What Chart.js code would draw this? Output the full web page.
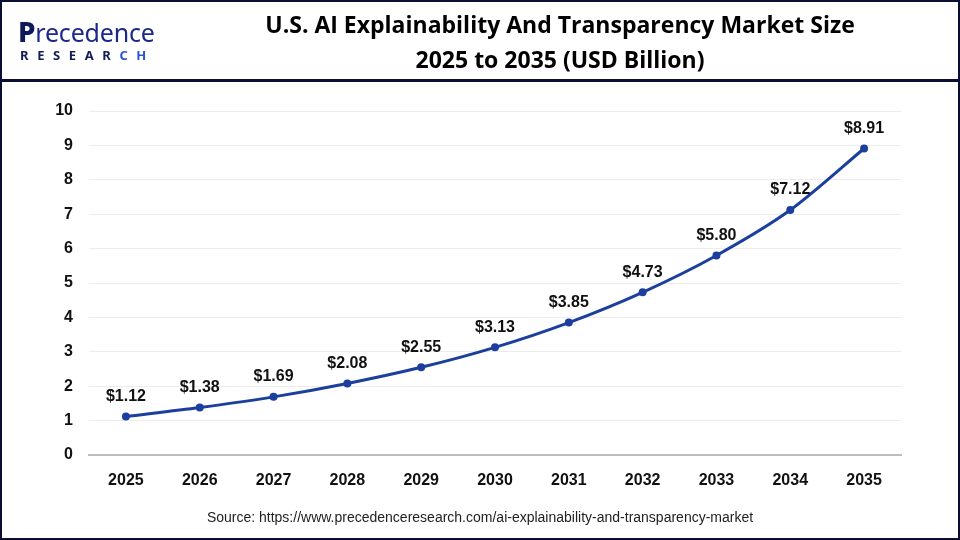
<!DOCTYPE html>
<html>
<head>
<meta charset="utf-8">
<script src="https://cdn.jsdelivr.net/npm/chart.js@4.4.1/dist/chart.umd.min.js"></script>
<style>
  html, body { margin: 0; padding: 0; background: #fff; }
  #wrap { position: relative; width: 960px; height: 540px; overflow: hidden; }
  #frame { position: absolute; left: 0; top: 0; width: 956px; height: 536px; border: 2px solid #0b0f35; pointer-events: none; }
  #sep { position: absolute; left: 0; top: 79px; width: 960px; height: 3px; background: #0b0f35; }
  #logo { position: absolute; left: 18px; top: 17px; font-family: "Noto Sans", sans-serif; }
  #logo .top { font-size: 25px; line-height: 29px; color: #1b2a8a; letter-spacing: -0.2px; }
  #logo .top b { color: #101a5a; font-weight: 800; font-size: 28px; }
  #logo .bot { font-size: 13px; font-weight: 700; letter-spacing: 8.6px; color: #141c55; margin-top: -1px; margin-left: 2px; }
  #logo .bot span { color: #2a55d0; }
  #title { position: absolute; left: 200px; width: 720px; top: 7px; text-align: center;
           font-family: "Open Sans", sans-serif; font-weight: 700; font-size: 23px; line-height: 35px; color: #000; }
  #source { position: absolute; left: 0; width: 960px; top: 509px; text-align: center;
            font-family: "Liberation Sans", Arial, sans-serif; font-size: 14px; color: #222; }
  canvas { position: absolute; left: 0; top: 0; }
</style>
</head>
<body>
<div id="wrap">
  <canvas id="chart" width="960" height="540"></canvas>
  <div id="logo">
    <div class="top"><b>P</b>recedence</div>
    <div class="bot">RESEAR<span>CH</span></div>
  </div>
  <div id="title">U.S. AI Explainability And Transparency Market Size<br>2025 to 2035 (USD Billion)</div>
  <div id="sep"></div>
  <div id="source">Source: https://www.precedenceresearch.com/ai-explainability-and-transparency-market</div>
  <div id="frame"></div>
</div>
<script>
// ===== DATA =====
const years = ['2025', '2026', '2027', '2028', '2029', '2030', '2031', '2032', '2033', '2034', '2035'];
const marketSize = [1.12, 1.38, 1.69, 2.08, 2.55, 3.13, 3.85, 4.73, 5.80, 7.12, 8.91];
const yTicks = [0, 1, 2, 3, 4, 5, 6, 7, 8, 9, 10];

const LINE_COLOR = '#1c3f9e';
const AXIS_FONT = { family: '"Liberation Sans", Arial, sans-serif', size: 16, weight: 'bold' };

// ===== VALUE LABELS ABOVE POINTS =====
const valueLabels = {
  id: 'valueLabels',
  afterDatasetsDraw(chart) {
    const ctx = chart.ctx;
    const meta = chart.getDatasetMeta(0);
    ctx.save();
    ctx.font = 'bold 16px "Liberation Sans", Arial, sans-serif';
    ctx.fillStyle = '#111';
    ctx.textAlign = 'center';
    ctx.textBaseline = 'middle';
    meta.data.forEach((pt, i) => {
      ctx.fillText('$' + marketSize[i].toFixed(2), pt.x, pt.y - 20);
    });
    ctx.restore();
  }
};

new Chart(document.getElementById('chart').getContext('2d'), {
  type: 'line',
  data: {
    labels: years,
    datasets: [{
      data: marketSize,
      borderColor: LINE_COLOR,
      backgroundColor: LINE_COLOR,
      borderWidth: 3,
      tension: 0.3,
      pointRadius: 4,
      pointBackgroundColor: LINE_COLOR,
      pointBorderWidth: 0,
      fill: false
    }]
  },
  options: {
    responsive: false,
    animation: false,
    layout: { padding: { left: 0, right: 59, top: 111, bottom: 45 } },
    plugins: { legend: { display: false }, tooltip: { enabled: false } },
    scales: {
      x: {
        offset: true,
        afterFit: s => { s.height = 40; },
        grid: { display: false, drawTicks: false },
        border: { display: true, color: '#bdbdbd', width: 2 },
        ticks: { color: '#111', font: AXIS_FONT, padding: 16 }
      },
      y: {
        min: 0,
        max: 10,
        afterFit: s => { s.width = 89; },
        afterBuildTicks: s => { s.ticks = yTicks.map(v => ({ value: v })); },
        border: { display: false },
        grid: {
          drawTicks: false,
          color: c => c.index === 0 ? '#bdbdbd' : '#ececec',
          lineWidth: c => c.index === 0 ? 2 : 1
        },
        ticks: { color: '#111', font: AXIS_FONT, padding: 16 }
      }
    }
  },
  plugins: [valueLabels]
});
</script>
</body>
</html>
